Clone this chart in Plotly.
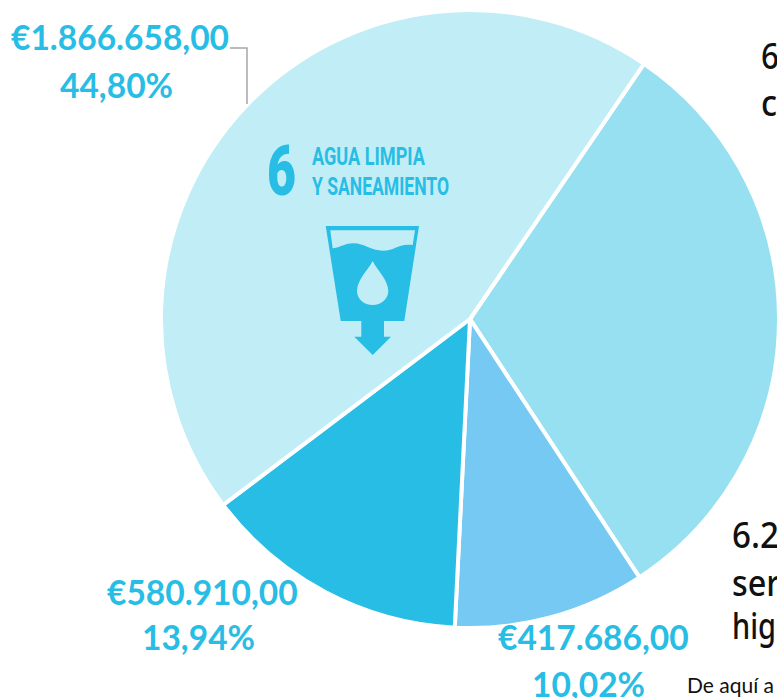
import plotly.graph_objects as go

W, H = 781, 698

# Data
categories = ["6.1", "6.2", "6.3", "6.x"]
amounts = [1301393, 417686, 580910, 1866658]
colors = ["#97E0F1", "#75C9F2", "#27BDE5", "#C1EDF6"]
amount_labels = ["€1.866.658,00", "€580.910,00", "€417.686,00"]
percent_labels = ["44,80%", "13,94%", "10,02%"]
BLUE = "#27BDE5"
PALE = "#C1EDF6"

fig = go.Figure(go.Pie(
    labels=categories, values=amounts, sort=False, direction="clockwise",
    rotation=34.3, textinfo="none", hoverinfo="label+value+percent",
    marker=dict(colors=colors, line=dict(color="white", width=4)),
    domain=dict(x=[161 / W, 779 / W], y=[1 - 628 / H, 1 - 10 / H]),
    showlegend=False,
))


def px(x, y):
    return x / W, 1 - y / H


def path(*cmds):
    out = []
    for c in cmds:
        if isinstance(c, str):
            out.append(c)
        else:
            a, b = px(*c)
            out.append(f"{a:.5f},{b:.5f}")
    return " ".join(out)


def txt(x, y, s, size, color, family, xanchor="center", weight=400):
    a, b = px(x, y)
    fig.add_annotation(x=a, y=b, xref="paper", yref="paper", text=s, showarrow=False,
                       xanchor=xanchor, yanchor="middle", align="left",
                       font=dict(size=size, color=color, family=family, weight=weight))


LBL = "Lato"
lab_pos = [(120, 37, 116, 85), (202, 592, 198, 637), (593, 637, 588, 684)]
for (x1, y1, x2, y2), a, p in zip(lab_pos, amount_labels, percent_labels):
    txt(x1, y1, a, 33.5, BLUE, LBL, weight=700)
    txt(x2, y2, p, 33.5, BLUE, LBL, weight=700)

# Clipped side text
SIDE = "Noto Sans"
txt(759, 55, "6", 37, "#111111", SIDE, "left", 500)
txt(759, 101, "c", 37, "#111111", SIDE, "left", 500)
txt(730, 533, "6.2", 37, "#111111", SIDE, "left", 500)
txt(730, 581, "ser", 37, "#111111", SIDE, "left", 500)
txt(730, 624, "hig", 37, "#111111", SIDE, "left", 500)
txt(685, 684, "De aquí a", 21, "#111111", "Lato", "left")

# SDG 6 badge
BADGE = "Roboto"
txt(287, 171, "6", 70, BLUE, BADGE, weight=900)
txt(310, 155, "AGUA LIMPIA", 26.5, BLUE, BADGE, "left", 700)
txt(310, 185, "Y SANEAMIENTO", 26.5, BLUE, BADGE, "left", 700)

shapes = [
    # connector
    dict(type="path", path=path("M", (230, 48), "L", (247, 48), "L", (247, 104)),
         line=dict(color="#A6A6A6", width=1.5), fillcolor="rgba(0,0,0,0)"),
    # glass and arrow
    dict(type="path", path=path("M", (325.7, 226), "L", (419, 226), "L", (404.3, 321), "L", (384, 321),
                                "L", (384, 336.7), "L", (391, 336.7), "L", (372.7, 355), "L", (354.3, 336.7),
                                "L", (361.3, 336.7), "L", (361.3, 321), "L", (340.7, 321), "Z"),
         fillcolor=BLUE, line=dict(width=0)),
    # air above the water
    dict(type="path", path=path("M", (330.3, 230.3), "L", (415, 230.3), "L", (412.7, 245),
                                "C", (398, 243), (395, 250.7), (383.3, 250.7),
                                "C", (370, 250.7), (365, 243.3), (353.3, 243.3),
                                "C", (345, 243.3), (342, 247), (332.7, 248.3), "Z"),
         fillcolor=PALE, line=dict(width=0)),
    # drop
    dict(type="path", path=path("M", (372.7, 261), "C", (368, 270), (357, 280), (357, 291),
                                "C", (357, 299), (364, 305), (372.7, 305),
                                "C", (381, 305), (388.3, 299), (388.3, 291),
                                "C", (388.3, 280), (377, 270), (372.7, 261), "Z"),
         fillcolor=PALE, line=dict(width=0)),
]
for s in shapes:
    s.update(xref="paper", yref="paper", layer="above")

fig.update_layout(width=W, height=H, margin=dict(l=0, r=0, t=0, b=0),
                  paper_bgcolor="white", shapes=shapes)

# Remove the page margin and set the condensed width of the lettering.
post = """
document.body.style.margin = '0';
document.documentElement.style.overflow = 'hidden';
var fit = {'AGUA LIMPIA': 113, 'Y SANEAMIENTO': 137, 'c': 16, '6.2': 47, 'ser': 48, 'hig': 44};
document.querySelectorAll('.annotation-text').forEach(function (t) {
  var s = t.textContent, n = fit[s];
  if (s === '6') { n = t.style.fontSize === '70px' ? 29 : 18; }
  if (n) {
    t.setAttribute('textLength', n);
    t.setAttribute('lengthAdjust', 'spacingAndGlyphs');
  }
});
"""
fig.write_html("out.html", post_script=post, config=dict(displayModeBar=False))
